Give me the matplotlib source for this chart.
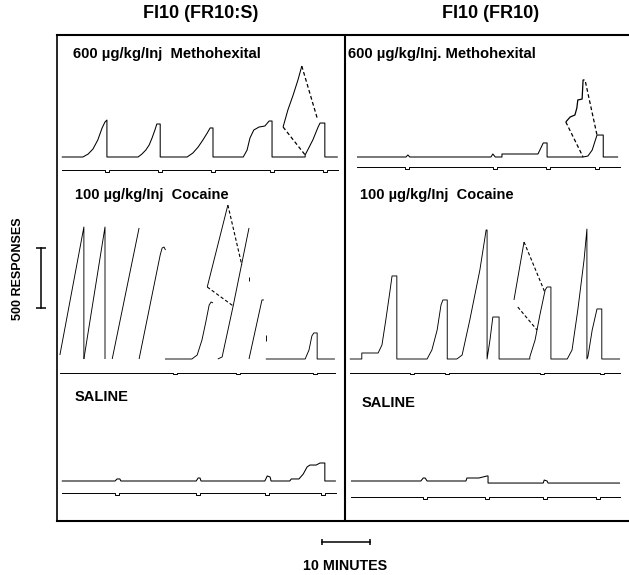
import matplotlib.pyplot as plt

# --- [Configuration] ---
W, H = 629, 575          # output size in pixels (dpi 100)
PX_MIN = 4.8             # recorder paper speed: pixels per minute
PX_RESP = 0.12           # pen step: pixels per response

plt.rcParams['font.family'] = ['Liberation Sans', 'DejaVu Sans']
plt.rcParams['font.weight'] = 'bold'

# --- data (minutes, responses since reset) ---
# FI10 (FR10:S), 600 ug/kg/inj methohexital
LM_MAIN = [(1.0, 0), (5.4, 0), (6.5, 25), (7.5, 67), (8.5, 142), (9.4, 242), (10.0, 292), (10.4, 308), (10.4, 0),
           (16.9, 0), (17.7, 25), (18.5, 58), (19.2, 100), (19.8, 158), (20.4, 225), (20.8, 275), (21.5, 275), (21.5, 0),
           (27.1, 0), (28.3, 33), (29.4, 83), (30.4, 142), (31.3, 200), (31.9, 242), (32.5, 242), (32.5, 0),
           (38.8, 0), (39.6, 58), (40.2, 158), (41.0, 225), (42.1, 250), (43.3, 258), (44.2, 300), (44.8, 300), (44.8, 0),
           (51.7, 0), (51.7, 17), (53.3, 142), (54.4, 250), (54.8, 283), (55.8, 283), (55.8, 0), (58.5, 0)]
LM_PIECE = [(47.1, 250), (48.1, 392), (49.2, 517), (50.2, 642), (51.0, 758)]
LM_DASH = [[(51.0, 758), (54.2, 325)], [(47.1, 250), (51.7, 17)]]
LM_INJ = [10.4, 21.5, 32.5, 44.8, 55.8]

# FI10 (FR10), 600 ug/kg/inj methohexital
RM_MAIN = [(2.5, 0), (12.7, 0), (13.1, 17), (13.5, 0), (30.4, 0), (30.8, 25), (31.3, 0), (32.7, 0), (32.7, 25),
           (40.2, 25), (40.6, 58), (41.3, 117), (42.1, 117), (42.1, 0), (49.6, 0), (50.6, 8), (51.5, 58),
           (52.5, 183), (53.8, 183), (53.8, 0), (56.9, 0)]
RM_PIECE = [(46.0, 292), (46.9, 333), (47.9, 350), (48.3, 408), (48.5, 475), (49.4, 483), (49.6, 642), (49.9, 642)]
RM_DASH = [[(50.1, 625), (52.5, 183)], [(46.0, 292), (49.6, 0)]]
RM_INJ = [12.9, 31.3, 42.3, 52.5]

# FI10 (FR10:S), 100 ug/kg/inj cocaine
LC_SEGS = [[(0.6, 33), (5.6, 1100), (5.6, 0)],
           [(5.6, 0), (10.0, 1100), (10.0, 0)],
           [(11.5, 0), (17.1, 1092)],
           [(17.1, 0), (21.5, 867), (21.9, 925), (22.3, 933), (22.6, 908)],
           [(22.5, 0), (28.1, 0), (29.2, 33), (30.2, 158), (31.0, 308), (31.7, 450), (32.1, 475), (32.5, 467)],
           [(33.5, 0), (34.4, 17), (36.7, 442), (40.0, 1092)],
           [(40.0, 683), (40.0, 650)],
           [(40.0, 0), (42.7, 492), (43.1, 492)],
           [(43.5, 200), (43.5, 150)],
           [(43.5, 0), (51.7, 0), (52.5, 75), (53.1, 192), (53.5, 217), (54.2, 217), (54.2, 0), (57.9, 0)]]
LC_PIECE = [(31.3, 600), (35.6, 1283)]
LC_DASH = [[(35.6, 1283), (38.5, 783)], [(31.3, 600), (36.7, 442)]]
LC_INJ = [24.6, 37.7, 53.8]

# FI10 (FR10), 100 ug/kg/inj cocaine
RC_MAIN = [(1.0, 0), (3.5, 0), (3.5, 50), (6.9, 50), (7.7, 117), (8.5, 325), (9.4, 575), (9.8, 692), (10.8, 692), (10.8, 0),
           (17.1, 0), (18.1, 75), (19.2, 242), (20.0, 450), (20.4, 492), (21.3, 492), (21.3, 0),
           (23.3, 0), (24.4, 33), (26.0, 325), (28.1, 742), (29.4, 1075), (29.6, 1075), (29.6, 0),
           (30.2, 158), (30.8, 350), (32.1, 350), (32.1, 0),
           (38.5, 0), (38.5, 17), (39.6, 158), (40.6, 367), (41.7, 575), (42.1, 600), (42.9, 600), (42.9, 0),
           (46.3, 0), (47.3, 75), (48.5, 408), (49.8, 825), (50.4, 1083), (50.4, 0),
           (50.6, 17), (51.5, 242), (52.5, 417), (53.5, 417), (53.5, 0), (57.3, 0)]
RC_PIECE = [(35.2, 492), (37.3, 975)]
RC_DASH = [[(37.3, 975), (41.7, 550)], [(36.0, 433), (40.0, 242)]]
RC_INJ = [14.0, 21.3, 41.0, 53.5]

# saline sessions
LS_MAIN = [(1.0, 0), (12.1, 0), (12.5, 17), (13.1, 17), (13.3, 0), (29.0, 0), (29.4, 25), (29.8, 25), (30.0, 0),
           (43.3, 0), (43.8, 42), (44.4, 33), (44.6, 0), (48.5, 0), (48.8, 17), (50.4, 17), (51.3, 58),
           (52.1, 117), (52.7, 133), (54.0, 133), (54.8, 150), (55.8, 150), (55.8, 0), (58.1, 0)]
LS_INJ = [12.5, 29.4, 43.8, 55.4]
RS_MAIN = [(1.25, 0), (15.8, 0), (16.3, 25), (16.7, 25), (17.1, 0), (25.2, 0), (25.4, 25), (27.9, 25),
           (29.6, 42), (29.8, 42), (29.8, -17), (41.3, -17), (41.5, 8), (42.1, 0), (42.3, -17), (57.3, -17)]
RS_INJ = [16.7, 29.6, 41.7, 52.7]

REC_LW = 0.75
DASH = (0, (3, 2))


def panel_axes(fig, left, top, right, bottom, base):
    """Transparent axes over one record, scaled in minutes / responses."""
    ax = fig.add_axes([left / W, 1 - bottom / H, (right - left) / W, (bottom - top) / H])
    ax.set_xlim(0, (right - left) / PX_MIN)
    ax.set_ylim(-(bottom - base) / PX_RESP, (base - top) / PX_RESP)
    ax.axis('off')
    return ax


def trace(ax, pts, **kw):
    t, r = zip(*pts)
    ax.plot(t, r, color='black', lw=kw.pop('lw', REC_LW), solid_capstyle='butt', **kw)


def event_pen(ax, t0, t1, inj, y0, dip=17, w=0.4):
    """Lower pen: flat line with a small deflection at each injection."""
    xs, ys = [t0], [y0]
    for t in inj:
        xs += [t - w, t - w, t + w, t + w]
        ys += [y0, y0 - dip, y0 - dip, y0]
    xs.append(t1)
    ys.append(y0)
    ax.plot(xs, ys, color='black', lw=0.7)


fig = plt.figure(figsize=(W / 100, H / 100), dpi=100)

# outer frame and divider
frame = fig.add_axes([57 / W, 1 - 521 / H, (629 - 57) / W, (521 - 35) / H])
frame.set_xlim(0, 1)
frame.set_ylim(0, 1)
frame.set_xticks([])
frame.set_yticks([])
frame.spines['right'].set_visible(False)
frame.spines['top'].set_linewidth(1.5)
frame.spines['bottom'].set_linewidth(1.5)
frame.spines['left'].set_linewidth(1.2)
frame.axvline((345 - 57) / (629 - 57), color='black', lw=1.5)

# methohexital row
ax = panel_axes(fig, 57, 35, 345, 178, 157)
trace(ax, LM_MAIN)
trace(ax, LM_PIECE)
for d in LM_DASH:
    trace(ax, d, ls=DASH, lw=0.9)
event_pen(ax, 1.0, 58.5, LM_INJ, -108)

ax = panel_axes(fig, 345, 35, 629, 178, 157)
trace(ax, RM_MAIN)
trace(ax, RM_PIECE, lw=0.9)
for d in RM_DASH:
    trace(ax, d, ls=DASH, lw=0.9)
event_pen(ax, 2.5, 57.3, RM_INJ, -83)

# cocaine row
ax = panel_axes(fig, 57, 178, 345, 382, 359)
for s in LC_SEGS:
    trace(ax, s, lw=0.65)
trace(ax, LC_PIECE, lw=0.65)
for d in LC_DASH:
    trace(ax, d, ls=DASH, lw=0.8)
event_pen(ax, 0.6, 57.9, LC_INJ, -117, dip=12)
# 500 responses calibration bar
ax.plot([-3.4, -3.4], [425, 925], color='black', lw=1.1, marker='_', ms=7, mew=1.1, clip_on=False)

ax = panel_axes(fig, 345, 178, 629, 382, 359)
trace(ax, RC_MAIN, lw=0.65)
trace(ax, RC_PIECE, lw=0.65)
for d in RC_DASH:
    trace(ax, d, ls=DASH, lw=0.8)
event_pen(ax, 1.0, 57.3, RC_INJ, -117, dip=12)

# saline row
ax = panel_axes(fig, 57, 382, 345, 521, 481)
trace(ax, LS_MAIN)
event_pen(ax, 1.0, 58.1, LS_INJ, -100)
# 10 minute calibration bar
ax.plot([55.2, 65.2], [-508, -508], color='black', lw=1.1, marker='|', ms=4, mew=1.1, clip_on=False)

ax = panel_axes(fig, 345, 382, 629, 521, 481)
trace(ax, RS_MAIN)
event_pen(ax, 1.25, 57.3, RS_INJ, -133)

# text
fig.text(201 / W, 1 - 14 / H, 'FI10 (FR10:S)', ha='center', va='center', fontsize=13, fontweight='bold')
fig.text(491 / W, 1 - 14 / H, 'FI10 (FR10)', ha='center', va='center', fontsize=13, fontweight='bold')
fig.text(73 / W, 1 - 54 / H, '600 \u00b5g/kg/Inj  Methohexital', va='center', fontsize=10.7)
fig.text(348 / W, 1 - 54 / H, '600 \u00b5g/kg/Inj. Methohexital', va='center', fontsize=10.7)
fig.text(75 / W, 1 - 195 / H, '100 \u00b5g/kg/Inj  Cocaine', va='center', fontsize=10.5)
fig.text(360 / W, 1 - 195 / H, '100 \u00b5g/kg/Inj  Cocaine', va='center', fontsize=10.5)
fig.text(75 / W, 1 - 397 / H, 'SALINE', va='center', fontsize=10.5)
fig.text(362 / W, 1 - 403 / H, 'SALINE', va='center', fontsize=10.5)
fig.text(18 / W, 1 - 269 / H, '500 RESPONSES', rotation=90, ha='center', va='center', fontsize=9)
fig.text(345 / W, 1 - 566 / H, '10 MINUTES', ha='center', va='center', fontsize=10.3)

fig.savefig('out.png', dpi=100)
